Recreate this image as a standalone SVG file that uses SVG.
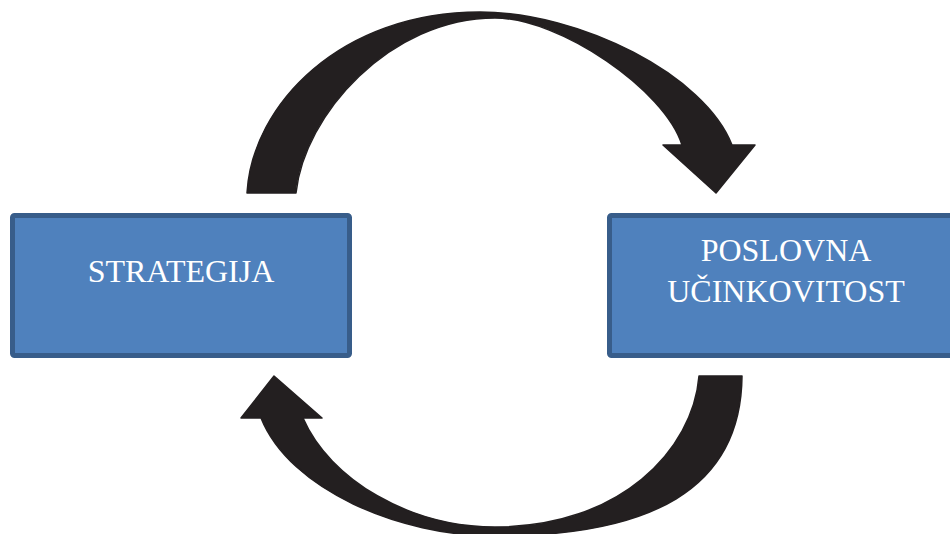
<svg xmlns="http://www.w3.org/2000/svg" width="950" height="534" viewBox="0 0 950 534">
<style>
.box{fill:#4f81bd;stroke:#385d8a;stroke-width:5}
.lbl{font-family:"Liberation Serif","Times New Roman",serif;font-size:32px;fill:#ffffff;text-anchor:middle}
.arr{fill:#231f20;stroke:#231f20;stroke-width:1.5;stroke-linejoin:round}
</style>
<rect width="950" height="534" fill="#ffffff"/>
<g id="connectors">
<path id="arrow-top" class="arr" d="M247,193 C252,105 340,12 480,12 C580,12 705,75 732,145 L755,145 L716,193 L663,145 L682,145 C665,90 560,18 495,18 C390,18 304,115 296,193 Z"/>
<path id="arrow-bottom" class="arr" d="M699,376 L742,376 C741,490 650,536 495,536 C400,536 290,490 261,418 L241,418 L274,376 L322,418 L303,418 C330,480 410,527 495,527 C620,527 693,450 699,376 Z"/>
</g>
<g id="node-strategija">
<rect class="box" x="12.5" y="215.5" width="337" height="140" rx="2"/>
<text class="lbl" x="181" y="282">STRATEGIJA</text>
</g>
<g id="node-poslovna">
<rect class="box" x="609.5" y="215.5" width="360" height="140" rx="2"/>
<text class="lbl" x="786" y="261">POSLOVNA</text>
<text class="lbl" x="786" y="302">UČINKOVITOST</text>
</g>
</svg>
